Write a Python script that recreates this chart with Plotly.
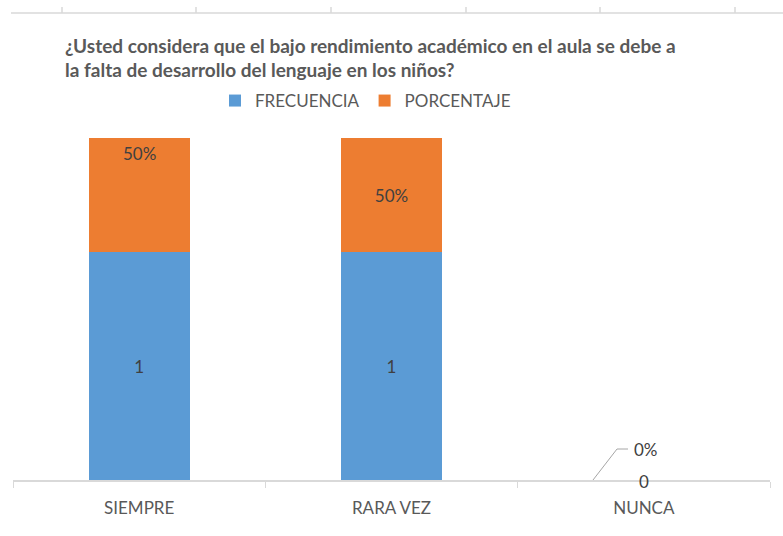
import plotly.graph_objects as go

categories = ["SIEMPRE", "RARA VEZ", "NUNCA"]
frecuencia = [1, 1, 0]
porcentaje = [0.5, 0.5, 0.0]
pct_labels = ["50%", "50%", "0%"]
title_lines = [
    "¿Usted considera que el bajo rendimiento académico en el aula se debe a",
    "la falta de desarrollo del lenguaje en los niños?",
]

W, H = 783, 536
ML, MR, MT, MB = 13, 13, 138, 56
FONT = "Lato, sans-serif"
GRAY = "#595959"
DARK = "#404040"
BLUE = "#5B9BD5"
ORANGE = "#ED7D31"
LBL = 17

fig = go.Figure()
fig.add_trace(go.Bar(
    name="FRECUENCIA", x=categories, y=frecuencia, marker_color=BLUE,
    marker_line_width=0,
    text=[str(v) if v else "" for v in frecuencia], textposition="inside",
    insidetextanchor="middle", textfont=dict(color=DARK, size=LBL, family=FONT),
))
fig.add_trace(go.Bar(
    name="PORCENTAJE", x=categories, y=porcentaje, marker_color=ORANGE,
    marker_line_width=0,
    text=["", pct_labels[1], ""], textposition="inside",
    insidetextanchor="middle", textfont=dict(color=DARK, size=LBL, family=FONT),
))

annotations = []
for i, line in enumerate(title_lines):
    annotations.append(dict(
        text="<b>" + line + "</b>", xref="paper", yref="paper",
        x=(63 - ML) / (W - ML - MR), y=(H - MB - (45 + 25 * i)) / (H - MT - MB),
        xanchor="left", yanchor="middle", showarrow=False,
        font=dict(family=FONT, size=19, color=GRAY),
    ))
annotations.append(dict(
    text=pct_labels[0], x=categories[0], y=frecuencia[0] + porcentaje[0],
    yanchor="top", yshift=-3, showarrow=False,
    font=dict(family=FONT, size=LBL, color=DARK),
))
annotations.append(dict(
    text=str(frecuencia[2]), x=categories[2], y=frecuencia[2],
    yanchor="middle", yshift=-1, showarrow=False,
    font=dict(family=FONT, size=LBL, color=DARK),
))
annotations.append(dict(
    text=pct_labels[2], x=2.0, y=frecuencia[2] + porcentaje[2],
    xanchor="center", yanchor="middle", yshift=31, xshift=2, showarrow=False,
    font=dict(family=FONT, size=LBL, color=DARK),
))

pw, ph = W - ML - MR, H - MT - MB
def px_x(p):
    return (p - ML) / pw
def px_y(p):
    return (H - MB - p) / ph

shapes = [
    dict(type="path", xref="paper", yref="paper",
         path=f"M {px_x(593)} {px_y(480)} L {px_x(617)} {px_y(449)} L {px_x(628)} {px_y(449)}",
         line=dict(color="#A6A6A6", width=1)),
    dict(type="line", xref="paper", yref="paper", x0=px_x(11), x1=px_x(783),
         y0=px_y(13), y1=px_y(13), line=dict(color="#D9D9D9", width=1.5)),
]
for tx in [62, 196, 331, 466, 600, 735]:
    shapes.append(dict(type="line", xref="paper", yref="paper", x0=px_x(tx), x1=px_x(tx),
                       y0=px_y(13), y1=px_y(7), line=dict(color="#D9D9D9", width=1.5)))

fig.update_layout(
    width=W, height=H, barmode="stack", bargap=0.6,
    margin=dict(l=ML, r=MR, t=MT, b=MB, autoexpand=False),
    paper_bgcolor="white", plot_bgcolor="white",
    font=dict(family=FONT, color=GRAY, size=LBL),
    legend=dict(orientation="h", xref="container", yref="container",
                x=215 / W, y=1 - 101 / H, xanchor="left", yanchor="middle",
                traceorder="normal",
                font=dict(size=LBL, color=GRAY, family=FONT),
                itemwidth=30, tracegroupgap=0, itemclick=False),
    xaxis=dict(showline=True, linecolor="#D9D9D9", linewidth=1.5, automargin=False,
               ticks="outside", tickson="boundaries", ticklen=6, tickcolor="#D9D9D9",
               ticklabelstandoff=12,
               tickfont=dict(size=LBL, color=GRAY, family=FONT), showgrid=False,
               fixedrange=True),
    yaxis=dict(range=[0, 1.5], visible=False, showgrid=False, fixedrange=True,
               automargin=False),
    annotations=annotations, shapes=shapes,
    showlegend=True,
)
fig.write_html("out.html", config={"displayModeBar": False},
               post_script="document.body.style.margin='0';document.body.style.overflow='hidden';")
